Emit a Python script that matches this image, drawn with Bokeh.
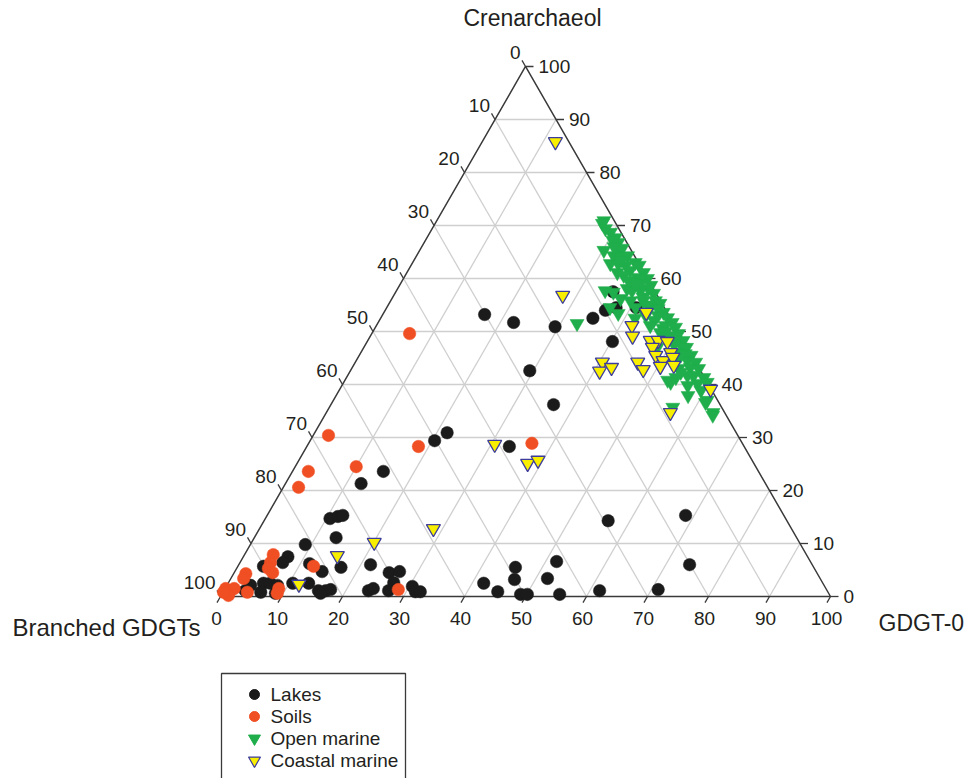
import math
from bokeh.plotting import figure
from bokeh.models import Range1d
from bokeh.core.properties import value
from bokeh.embed import file_html
from bokeh.resources import INLINE

# ---------------- data: (Crenarchaeol %, GDGT-0 %), Branched GDGTs = 100 - both
lakes_cren = [53.2, 51.7, 50.9, 52.5, 54.0, 57.5, 54.5, 54.5, 48.1, 42.6, 36.2, 29.4, 30.9, 28.3,
              23.6, 21.3, 14.7, 15.1, 15.3, 11.1, 9.8, 7.5, 6.4, 5.7, 6.2, 4.7, 5.5, 2.5, 2.5, 2.1,
              1.1, 0.8, 0.6, 2.5, 2.5, 1.1, 1.1, 1.3, 0.6, 2.1, 6.0, 4.5, 4.7, 2.6, 1.1, 1.5, 1.1,
              1.9, 0.9, 0.9, 2.5, 0.9, 3.2, 5.5, 0.4, 0.4, 3.4, 6.6, 0.4, 1.1, 1.3, 6.0, 15.3, 14.3]
lakes_gdgt0 = [16.7, 22.2, 29.4, 34.8, 36.1, 35.6, 37.6, 40.9, 40.2, 29.4, 36.5, 20.4, 21.7, 33.2,
               14.9, 12.4, 10.6, 11.7, 12.4, 13.4, 9.0, 7.3, 7.0, 4.2, 11.5, 14.3, 17.0, 5.8, 6.9, 8.3,
               3.5, 6.2, 8.7, 10.6, 13.2, 15.5, 16.7, 17.4, 16.1, 3.9, 21.6, 25.4, 27.0, 27.1, 23.7, 24.3, 27.0,
               30.5, 31.5, 32.3, 41.9, 45.0, 46.6, 45.6, 49.0, 50.1, 51.9, 51.8, 55.4, 61.6, 71.1, 73.9, 68.6, 56.4]

soils_cren = [49.6, 30.4, 28.3, 24.5, 23.6, 20.6, 28.9, 7.9, 6.4, 5.3, 4.5, 4.3, 3.4, 1.5, 1.1, 1.5,
              0.2, 0.8, 1.5, 0.6, 5.7, 1.3, 0.8]
soils_gdgt0 = [6.2, 2.5, 18.3, 10.0, 2.6, 2.5, 36.6, 4.7, 5.0, 5.2, 6.3, 2.0, 2.1, 0.1, 1.1, 1.5,
               1.2, 4.0, 8.8, 9.0, 12.4, 28.5, 0.1]

open_cren = [70.9, 70.4, 68.7, 67.7, 66.8, 65.3, 65.3, 65.7, 64.3, 64.0, 64.3, 62.8, 62.8, 62.5, 63.0,
             62.5, 61.5, 61.1, 61.1, 60.6, 60.2, 60.0, 57.7, 57.4, 58.1, 57.7, 57.7, 58.1, 57.2, 56.2,
             55.8, 55.8, 55.8, 55.3, 54.5, 53.4, 54.5, 54.5, 54.3, 53.6, 52.5, 53.0, 52.1, 52.6, 51.7,
             51.5, 51.1, 50.6, 50.8, 49.6, 49.8, 48.9, 48.3, 48.3, 47.0, 47.0, 47.0, 46.0, 45.8, 45.5,
             44.0, 44.5, 44.2, 43.0, 43.2, 43.0, 40.8, 41.3, 41.7, 41.3, 40.4, 39.8, 40.2, 40.4, 37.9,
             38.9, 37.0, 36.6, 35.7, 34.7, 34.2, 51.1, 49.2, 45.5, 58.7, 59.2, 59.6, 67.2, 69.4, 41.7, 42.3,
             56.5, 55.0, 53.0, 50.0, 47.5, 63.5, 66.0, 59.0]
open_gdgt0 = [27.4, 27.4, 29.6, 30.9, 31.8, 30.2, 32.4, 33.0, 32.3, 33.6, 34.6, 32.5, 33.8, 35.2, 36.5,
              37.4, 36.4, 38.8, 34.5, 35.8, 38.3, 40.0, 34.2, 35.7, 37.6, 38.6, 40.0, 41.1, 42.4, 37.5,
              39.3, 41.4, 43.4, 44.4, 36.6, 38.5, 40.8, 43.2, 44.6, 45.8, 41.7, 43.2, 45.0, 47.0, 48.2,
              32.7, 44.9, 47.2, 49.2, 50.3, 47.2, 48.8, 50.4, 51.7, 48.1, 52.2, 52.9, 51.9, 53.3, 54.4,
              52.3, 54.3, 55.8, 53.6, 55.4, 56.9, 52.9, 54.0, 56.7, 58.6, 53.6, 56.7, 58.1, 59.6, 57.7,
              59.3, 61.3, 61.2, 56.3, 63.4, 63.6, 47.4, 49.2, 52.7, 41.2, 39.3, 37.1, 30.7, 28.4, 55.7, 54.3,
              41.0, 42.5, 45.2, 48.0, 50.6, 34.0, 31.5, 38.5]

coastal_cren = [85.8, 56.8, 28.7, 25.1, 25.7, 12.8, 10.2, 7.7, 2.3, 53.6, 51.1, 49.1, 44.2, 42.5, 43.2,
                44.2, 42.8, 48.3, 48.3, 48.1, 47.0, 46.0, 45.5, 44.5, 45.1, 43.4, 43.6, 39.1, 34.7]
coastal_gdgt0 = [12.0, 27.7, 30.6, 37.8, 39.2, 28.5, 20.1, 15.3, 11.7, 43.0, 41.9, 43.0, 40.5, 40.9, 42.5,
                 46.3, 47.9, 46.3, 47.6, 49.2, 47.3, 50.8, 48.6, 50.3, 51.6, 50.4, 52.5, 60.8, 56.4]

tick_values = [0, 10, 20, 30, 40, 50, 60, 70, 80, 90, 100]
tick_labels = [str(v) for v in tick_values]
axis_titles = ["Crenarchaeol", "Branched GDGTs", "GDGT-0"]
series_names = ["Lakes", "Soils", "Open marine", "Coastal marine"]

# ---------------- geometry helpers
H = math.sqrt(3) / 2


def tern(cren, gdgt0):
    xs = [g + c / 2 for c, g in zip(cren, gdgt0)]
    ys = [c * H for c in cren]
    return xs, ys


FONT = value("Liberation Sans")
TXT = "#231f20"
SX, SY = 6.1, 6.12          # px per data unit
OX, OY = 220, 596           # canvas px of the bottom-left vertex
W, HGT = 964, 778


def px(xp, yp):  # canvas pixels -> data (layout helper for legend box)
    return (xp - OX) / SX, (OY - yp) / SY


p = figure(width=W, height=HGT, x_range=Range1d(-OX / SX, (W - OX) / SX),
           y_range=Range1d(-(HGT - OY) / SY, OY / SY), toolbar_location=None,
           output_backend="svg", x_axis_type=None, y_axis_type=None, min_border=0)
p.outline_line_color = None
p.grid.visible = False
p.background_fill_color = "white"

# grid lines
gx0, gy0, gx1, gy1 = [], [], [], []
for v in tick_values[1:-1]:
    gx0.append(v / 2); gy0.append(v * H); gx1.append(100 - v / 2); gy1.append(v * H)
    gx0.append(v); gy0.append(0); gx1.append(v + (100 - v) / 2); gy1.append((100 - v) * H)
    gx0.append(100 - v); gy0.append(0); gx1.append((100 - v) / 2); gy1.append((100 - v) * H)
p.segment(gx0, gy0, gx1, gy1, line_color="#cfcfcf", line_width=1.3)

# triangle edges
p.line([0, 100, 50, 0], [0, 0, 100 * H, 0], line_color="#3a3a3a", line_width=1.5)

# ticks
tl = 7 / SX
tx0, ty0, tx1, ty1 = [], [], [], []
for v in tick_values:
    tx0.append(v); ty0.append(0); tx1.append(v - 0.5 * tl); ty1.append(-H * tl)
    tx0.append(100 - v / 2); ty0.append(v * H); tx1.append(100 - v / 2 + 8 / SX); ty1.append(v * H)
    c = 100 - v
    tx0.append(c / 2); ty0.append(c * H); tx1.append(c / 2 - 0.5 * tl); ty1.append(c * H + H * tl)
p.segment(tx0, ty0, tx1, ty1, line_color="#3a3a3a", line_width=1.3)

# tick labels
TS = "19px"
p.text(x=tick_values, y=[0] * 11, text=tick_labels, text_font=FONT, text_font_size=TS,
       text_color=TXT, text_align="center", text_baseline="middle", x_offset=-4, y_offset=22)
p.text(x=[100 - v / 2 for v in tick_values], y=[v * H for v in tick_values], text=tick_labels,
       text_font=FONT, text_font_size=TS, text_color=TXT, text_align="left",
       text_baseline="middle", x_offset=13, y_offset=0)
p.text(x=[(100 - v) / 2 for v in tick_values], y=[(100 - v) * H for v in tick_values], text=tick_labels,
       text_font=FONT, text_font_size=TS, text_color=TXT, text_align="right",
       text_baseline="middle", x_offset=-5, y_offset=-14)

# axis titles
p.text(x=[50], y=[100 * H], text=[axis_titles[0]], text_font=FONT, text_font_size="23px",
       text_color=TXT, text_align="center", text_baseline="middle", x_offset=7, y_offset=-48)
p.text(x=[0], y=[0], text=[axis_titles[1]], text_font=FONT, text_font_size="24px",
       text_color=TXT, text_align="left", text_baseline="middle", x_offset=-208, y_offset=31)
p.text(x=[100], y=[0], text=[axis_titles[2]], text_font=FONT, text_font_size="23px",
       text_color=TXT, text_align="left", text_baseline="middle", x_offset=48, y_offset=26)

# data
lx, ly = tern(lakes_cren, lakes_gdgt0)
sx_, sy_ = tern(soils_cren, soils_gdgt0)
ox, oy = tern(open_cren, open_gdgt0)
cx, cy = tern(coastal_cren, coastal_gdgt0)

LAKE_C, SOIL_C, OPEN_C, COAST_C, COAST_L = "#1b1b1b", "#f04e23", "#1fae4b", "#f7ee00", "#3c3c9c"
p.scatter(lx, ly, marker="circle", size=12.5, fill_color=LAKE_C, line_color=LAKE_C, line_width=0.5)
p.scatter(sx_, sy_, marker="circle", size=12.5, fill_color=SOIL_C, line_color=SOIL_C, line_width=0.5)
p.scatter(ox, oy, marker="inverted_triangle", size=14, fill_color=OPEN_C, line_color=OPEN_C, line_width=0.5)
p.scatter(cx, cy, marker="inverted_triangle", size=14, fill_color=COAST_C, line_color=COAST_L, line_width=1.3)

# legend (drawn manually)
bx0, by0 = px(221, 673)
bx1, by1 = px(405, 800)
p.quad(left=[bx0], right=[bx1], top=[by0], bottom=[by1], fill_color="white",
       line_color="#3a3a3a", line_width=1.3)
rows = [694, 716, 738, 760]
mk = [px(254, r) for r in rows]
tx = [px(270, r) for r in rows]
p.scatter([mk[0][0]], [mk[0][1]], marker="circle", size=10, fill_color=LAKE_C, line_color=LAKE_C)
p.scatter([mk[1][0]], [mk[1][1]], marker="circle", size=10, fill_color=SOIL_C, line_color=SOIL_C)
p.scatter([mk[2][0]], [mk[2][1]], marker="inverted_triangle", size=12, fill_color=OPEN_C, line_color=OPEN_C)
p.scatter([mk[3][0]], [mk[3][1]], marker="inverted_triangle", size=12, fill_color=COAST_C,
          line_color=COAST_L, line_width=1.2)
p.text(x=[t[0] for t in tx], y=[t[1] for t in tx], text=series_names, text_font=FONT,
       text_font_size="19px", text_color=TXT, text_align="left", text_baseline="middle")

open("out.html", "w").write(file_html(p, INLINE))
